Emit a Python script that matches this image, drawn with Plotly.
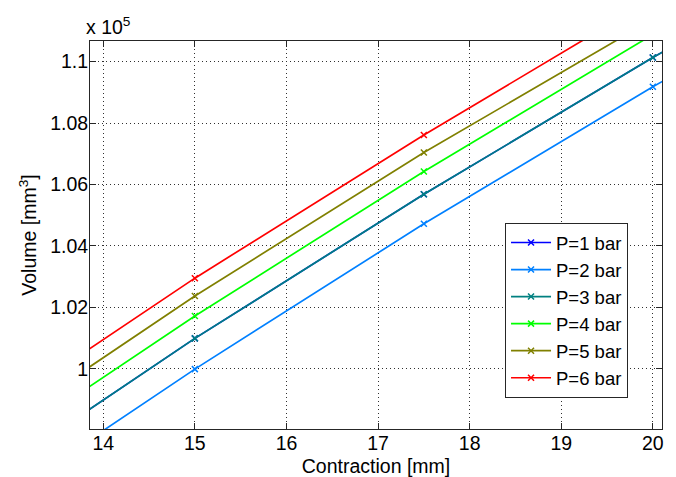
import plotly.graph_objects as go

contraction = [12.5, 15, 17.5, 20, 22.5]
labels = ["P=1 bar", "P=2 bar", "P=3 bar", "P=4 bar", "P=5 bar", "P=6 bar"]
colors = ["#0000FF", "#0080FF", "#008080", "#00FF00", "#808000", "#FF0000"]
vol_p1 = [95970, 100990, 105680, 110130, 114380]
vol_p2 = [94990, 99990, 104720, 109180, 113380]
vol_p3 = [95970, 100990, 105680, 110130, 114380]
vol_p4 = [96720, 101720, 106420, 110880, 115120]
vol_p5 = [97350, 102370, 107040, 111380, 115500]
vol_p6 = [97950, 102950, 107610, 112050, 116300]
volumes = [vol_p1, vol_p2, vol_p3, vol_p4, vol_p5, vol_p6]

y_tickvals = [100000, 102000, 104000, 106000, 108000, 110000]
y_ticktext = ["1", "1.02", "1.04", "1.06", "1.08", "1.1"]
x_tickvals = [14, 15, 16, 17, 18, 19, 20]

fig = go.Figure()
for lab, col, vals in zip(labels, colors, volumes):
    fig.add_trace(go.Scatter(
        x=contraction, y=vals, name=lab, mode="lines+markers",
        line=dict(color=col, width=1.7),
        marker=dict(symbol="x-thin", size=6, color=col, line=dict(color=col, width=1.5)),
    ))

font_family = "Liberation Sans, Arial, sans-serif"
axis_common = dict(
    showline=True, linecolor="#262626", linewidth=1, mirror="ticks",
    ticks="inside", ticklen=6, tickcolor="#262626",
    showgrid=True, gridcolor="#303030", griddash="1px,3px", gridwidth=1,
    zeroline=False, automargin=False, ticklabelstandoff=-3,
    tickfont=dict(size=19.5, color="black", family=font_family),
)

# the page body has an 8px default margin, so the figure is offset by 8px
fig.update_layout(
    width=668, height=469,
    margin=dict(l=82, r=14, t=33, b=48),
    paper_bgcolor="white", plot_bgcolor="white",
    font=dict(family=font_family, size=19.5, color="black"),
    xaxis=dict(range=[13.855, 20.1], tickvals=x_tickvals,
               title=dict(text="Contraction [mm]", standoff=8, font=dict(size=19.5)),
               **axis_common),
    yaxis=dict(range=[98040, 110670], tickvals=y_tickvals, ticktext=y_ticktext,
               title=dict(text="Volume [mm<sup>3</sup>]", standoff=8, font=dict(size=19.5)),
               **axis_common),
    legend=dict(x=0.9406, y=0.08, xanchor="right", yanchor="bottom",
                bgcolor="white", bordercolor="#262626", borderwidth=1,
                font=dict(size=18.5, family=font_family), tracegroupgap=0,
                itemwidth=40),
    showlegend=True,
    annotations=[dict(text="x 10<sup>5</sup>", xref="paper", yref="paper",
                      x=0, y=1, xanchor="left", yanchor="bottom", xshift=-6, yshift=1,
                      showarrow=False, font=dict(size=19.5, family=font_family))],
)

fig.write_html("out.html")
